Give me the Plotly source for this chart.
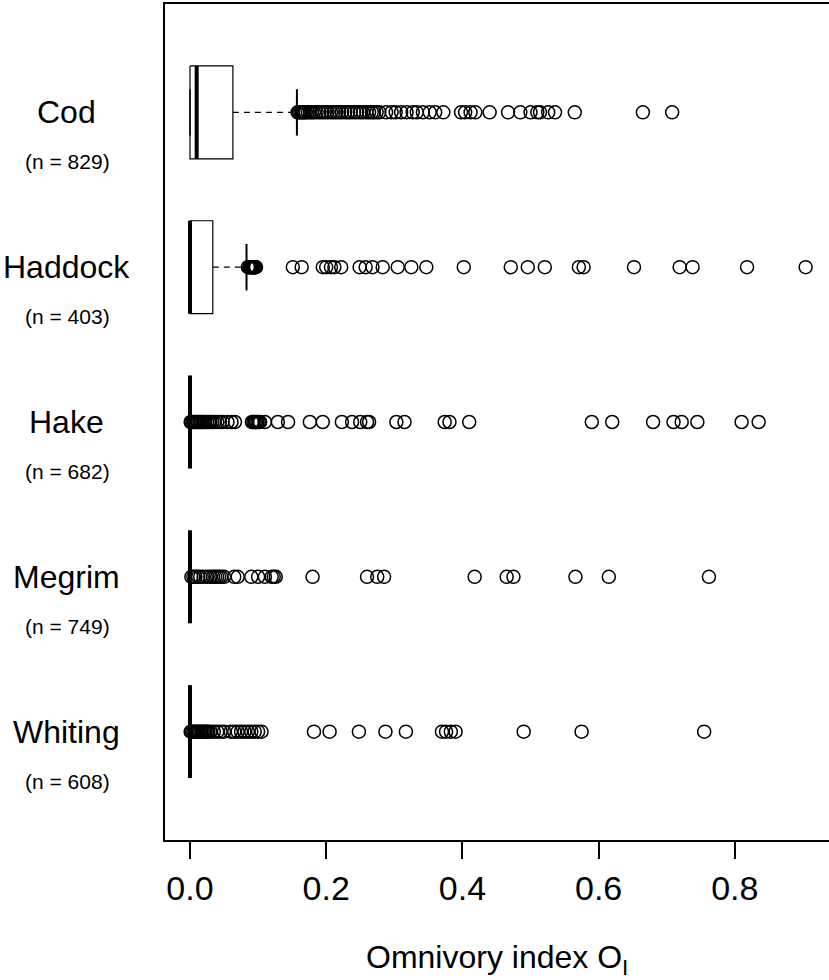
import plotly.graph_objects as go

species = ["Cod", "Haddock", "Hake", "Megrim", "Whiting"]
n_obs = [829, 403, 682, 749, 608]
q1 = [0.0, 0.0, 0.0, 0.0, 0.0]
median = [0.0098, 0.0, 0.0, 0.0, 0.0]
q3 = [0.063, 0.0335, 0.0, 0.0, 0.0]
whisker_lo = [0.0, 0.0, 0.0, 0.0, 0.0]
whisker_hi = [0.157, 0.083, 0.0, 0.0, 0.0]

out_cod = [0.158, 0.160, 0.162, 0.164, 0.166, 0.168, 0.170, 0.173, 0.176, 0.179,
           0.182, 0.186, 0.190, 0.194, 0.198, 0.202, 0.207, 0.211, 0.215, 0.219,
           0.223, 0.228, 0.232, 0.236, 0.241, 0.245, 0.250, 0.254, 0.259, 0.263,
           0.267, 0.270, 0.274, 0.278, 0.288, 0.296, 0.302, 0.310, 0.318, 0.327,
           0.333, 0.342, 0.352, 0.360, 0.372, 0.398, 0.404, 0.412, 0.419, 0.440,
           0.467, 0.485, 0.500, 0.510, 0.514, 0.526, 0.536, 0.565, 0.665, 0.708]
out_haddock = [0.085, 0.087, 0.088, 0.089, 0.090, 0.091, 0.092, 0.093, 0.094, 0.095,
               0.096, 0.097, 0.151, 0.164, 0.195, 0.200, 0.207, 0.212, 0.222, 0.249,
               0.258, 0.268, 0.283, 0.305, 0.325, 0.347, 0.402, 0.471, 0.496, 0.521,
               0.571, 0.578, 0.652, 0.719, 0.738, 0.818, 0.904]
out_hake = [0.001, 0.002, 0.004, 0.006, 0.008, 0.010, 0.012, 0.014, 0.016, 0.018,
            0.020, 0.022, 0.025, 0.028, 0.030, 0.033, 0.036, 0.040, 0.044, 0.048,
            0.055, 0.061, 0.066, 0.091, 0.093, 0.095, 0.097, 0.099, 0.101, 0.103,
            0.110, 0.129, 0.144, 0.176, 0.195, 0.223, 0.238, 0.250, 0.260, 0.263,
            0.303, 0.315, 0.374, 0.381, 0.410, 0.590, 0.620, 0.680, 0.710, 0.722,
            0.745, 0.810, 0.835]
out_megrim = [0.002, 0.005, 0.008, 0.012, 0.015, 0.020, 0.025, 0.030, 0.034, 0.037,
              0.040, 0.043, 0.046, 0.050, 0.065, 0.070, 0.090, 0.100, 0.110, 0.120,
              0.123, 0.126, 0.180, 0.260, 0.275, 0.285, 0.418, 0.465, 0.475, 0.566,
              0.615, 0.762]
out_whiting = [0.001, 0.003, 0.005, 0.007, 0.009, 0.011, 0.013, 0.015, 0.017, 0.019,
               0.021, 0.023, 0.025, 0.027, 0.030, 0.035, 0.040, 0.045, 0.050, 0.060,
               0.065, 0.070, 0.075, 0.080, 0.085, 0.090, 0.095, 0.100, 0.105, 0.182,
               0.205, 0.248, 0.287, 0.317, 0.370, 0.376, 0.383, 0.390, 0.490, 0.575,
               0.755]
outliers = [out_cod, out_haddock, out_hake, out_megrim, out_whiting]

tick_vals = [0.0, 0.2, 0.4, 0.6, 0.8]
tick_text = ["0.0", "0.2", "0.4", "0.6", "0.8"]

FONT = "Liberation Sans, Arial, Helvetica, sans-serif"
HALF = 0.3      # half box width (y units)
STAPLE = 0.15   # half staple width

fig = go.Figure()

def add_line(xs, ys, width=1.3, dash=None):
    fig.add_trace(go.Scatter(x=xs, y=ys, mode="lines",
                             line=dict(color="black", width=width, dash=dash),
                             hoverinfo="skip", showlegend=False))

for i, sp in enumerate(species):
    pos = i + 1
    # box
    add_line([q1[i], q3[i], q3[i], q1[i], q1[i]],
             [pos - HALF, pos - HALF, pos + HALF, pos + HALF, pos - HALF], width=1.2)
    # whiskers
    if whisker_lo[i] < q1[i]:
        add_line([whisker_lo[i], q1[i]], [pos, pos], dash="6px,5px")
    if whisker_hi[i] > q3[i]:
        add_line([q3[i], whisker_hi[i]], [pos, pos], dash="6px,5px")
    # staples
    add_line([whisker_lo[i], whisker_lo[i]], [pos - STAPLE, pos + STAPLE], width=1.5)
    add_line([whisker_hi[i], whisker_hi[i]], [pos - STAPLE, pos + STAPLE], width=2)
    # median
    add_line([median[i], median[i]], [pos - HALF, pos + HALF], width=4)
    # outliers
    fig.add_trace(go.Scatter(x=outliers[i], y=[pos] * len(outliers[i]), mode="markers",
                             marker=dict(symbol="circle-open", size=13, color="black",
                                         line=dict(width=1.5, color="black")),
                             hoverinfo="skip", showlegend=False))
    # labels
    fig.add_annotation(x=-0.149, xref="paper", y=pos, yref="y", text=sp,
                       showarrow=False, xanchor="center", yanchor="middle",
                       font=dict(family=FONT, size=32, color="black"))
    fig.add_annotation(x=-0.147, xref="paper", y=pos + 0.32, yref="y",
                       text=f"(n = {n_obs[i]})", showarrow=False,
                       xanchor="center", yanchor="middle",
                       font=dict(family=FONT, size=21, color="black"))

fig.add_annotation(x=0.5, xref="paper", y=-0.1435, yref="paper",
                   text="Omnivory index O<sub>I</sub>", showarrow=False,
                   xanchor="center", yanchor="middle",
                   font=dict(family=FONT, size=32, color="black"))

fig.update_xaxes(range=[-0.0367, 0.9383], tickvals=tick_vals, ticktext=tick_text,
                 ticks="outside", ticklen=17, tickwidth=1.5, tickcolor="black",
                 showline=True, linecolor="black", linewidth=1.5, mirror=True,
                 showgrid=False, zeroline=False,
                 tickfont=dict(family=FONT, size=34, color="black"))
fig.update_yaxes(range=[5.7, 0.3], showticklabels=False, ticks="",
                 showline=True, linecolor="black", linewidth=1.5, mirror=False,
                 showgrid=False, zeroline=False)

fig.update_layout(width=829, height=980,
                  margin=dict(l=165, r=0, t=4, b=140),
                  paper_bgcolor="white", plot_bgcolor="white",
                  font=dict(family=FONT, color="black"))

fig.write_html("out.html")
